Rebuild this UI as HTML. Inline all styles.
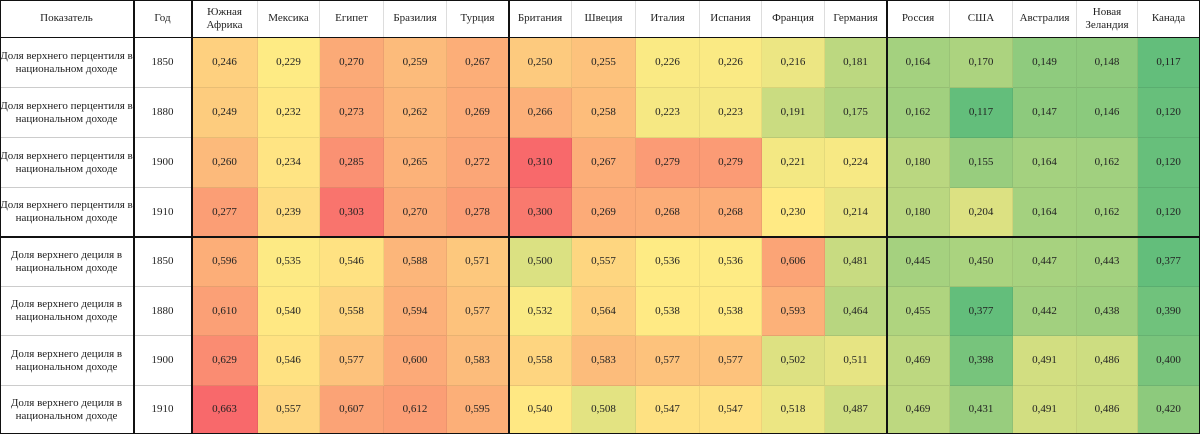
<!DOCTYPE html>
<html><head><meta charset="utf-8">
<style>
body{margin:0;width:1200px;height:434px;background:#fff;overflow:hidden;font-family:"Liberation Serif","Noto Serif CJK SC",serif;}
#t{position:relative;width:1200px;height:434px;}
.c{position:absolute;box-sizing:border-box;display:flex;align-items:center;justify-content:center;text-align:center;font-size:11px;color:#222;line-height:13px;border-right:1px solid rgba(0,0,0,0.06);border-bottom:1px solid rgba(0,0,0,0.08);}
.h{background:#fff;border-bottom:1px solid #ccc;border-right:1px solid #ddd;}
.vl{position:absolute;background:#111;}
</style></head><body>
<div id="t"></div>
<script>
const countries=["Южная Африка","Мексика","Египет","Бразилия","Турция","Британия","Швеция","Италия","Испания","Франция","Германия","Россия","США","Австралия","Новая Зеландия","Канада"];
const years=[1850,1880,1900,1910,1850,1880,1900,1910];
const indicators=["Доля верхнего перцентиля в национальном доходе","Доля верхнего дециля в национальном доходе"];
const pct1850=[0.246,0.229,0.270,0.259,0.267,0.250,0.255,0.226,0.226,0.216,0.181,0.164,0.170,0.149,0.148,0.117];
const pct1880=[0.249,0.232,0.273,0.262,0.269,0.266,0.258,0.223,0.223,0.191,0.175,0.162,0.117,0.147,0.146,0.120];
const pct1900=[0.260,0.234,0.285,0.265,0.272,0.310,0.267,0.279,0.279,0.221,0.224,0.180,0.155,0.164,0.162,0.120];
const pct1910=[0.277,0.239,0.303,0.270,0.278,0.300,0.269,0.268,0.268,0.230,0.214,0.180,0.204,0.164,0.162,0.120];
const dec1850=[0.596,0.535,0.546,0.588,0.571,0.500,0.557,0.536,0.536,0.606,0.481,0.445,0.450,0.447,0.443,0.377];
const dec1880=[0.610,0.540,0.558,0.594,0.577,0.532,0.564,0.538,0.538,0.593,0.464,0.455,0.377,0.442,0.438,0.390];
const dec1900=[0.629,0.546,0.577,0.600,0.583,0.558,0.583,0.577,0.577,0.502,0.511,0.469,0.398,0.491,0.486,0.400];
const dec1910=[0.663,0.557,0.607,0.612,0.595,0.540,0.508,0.547,0.547,0.518,0.487,0.469,0.431,0.491,0.486,0.420];
const rows=[pct1850,pct1880,pct1900,pct1910,dec1850,dec1880,dec1900,dec1910];

const T=document.getElementById('t');
const colX=[0,134,192,258,320,384,447,509,572,636,700,762,825,887,950,1013,1077,1138,1200];
const rowY=[0,38,88,138,188,237,287,336,386,434];
function cell(x,y,w,h,txt,cls,bg){const d=document.createElement('div');d.className='c '+(cls||'');d.style.left=x+'px';d.style.top=y+'px';d.style.width=w+'px';d.style.height=h+'px';if(bg)d.style.background=bg;d.textContent=txt;T.appendChild(d);return d;}
function lerp(a,b,t){return a.map((v,i)=>Math.round(v+(b[i]-v)*t));}
const G=[99,190,123],Y=[255,235,132],R=[248,105,107];
function pctl(arr,p){const s=arr.slice().sort((a,b)=>a-b);const i=(s.length-1)*p,lo=Math.floor(i),hi=Math.ceil(i);return s[lo]+(s[hi]-s[lo])*(i-lo);}
function scale(block){const all=block.flat();const mn=Math.min(...all),mx=Math.max(...all),md=pctl(all,0.5);
 return v=>{let c;if(v<=md)c=lerp(G,Y,(v-mn)/(md-mn||1));else c=lerp(Y,R,(v-md)/(mx-md||1));return 'rgb('+c.join(',')+')';};}
const sc1=scale(rows.slice(0,4)),sc2=scale(rows.slice(4));

let hd=cell(0,0,134,38,'Показатель','h');


hd=cell(134,0,58,38,'Год','h');


countries.forEach((c,i)=>{const d=cell(colX[i+2],0,colX[i+3]-colX[i+2],38,c,'h');
 
 });
rows.forEach((r,ri)=>{const y=rowY[ri+1],h=rowY[ri+2]-y;
 let d=cell(0,y,134,h,indicators[ri<4?0:1],'h');
 
 
 d=cell(134,y,58,h,String(years[ri]),'h');
 
 
 r.forEach((v,ci)=>{const sc=ri<4?sc1:sc2;
  const e=cell(colX[ci+2],y,colX[ci+3]-colX[ci+2],h,v.toFixed(3).replace('.',','),'',sc(v));
  
  });
});
function line(x,y,w,h){const l=document.createElement('div');l.className='vl';l.style.left=x+'px';l.style.top=y+'px';l.style.width=w+'px';l.style.height=h+'px';
 
 
 T.appendChild(l);}
[133,191,508,886].forEach(x=>line(x,0,2,434));
line(0,236,1200,2);line(0,37,1200,1);
line(0,0,1200,1);line(0,433,1200,1);line(0,0,1,434);line(1199,0,1,434);
</script>
</body></html>
